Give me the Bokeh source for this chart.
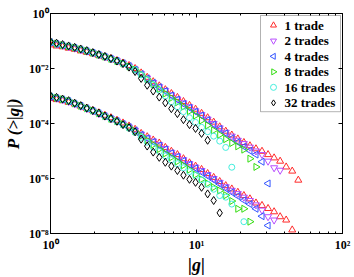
import numpy as np
from bokeh.plotting import figure
from bokeh.models import LogAxis, FixedTicker, Range1d, CustomJSTickFormatter, BoxAnnotation
from bokeh.core.properties import value
from bokeh.embed import file_html
from bokeh.resources import INLINE

# bin centres of |g|
g_bins = [1.0, 1.1, 1.21, 1.331, 1.464, 1.611, 1.772, 1.949, 2.144, 2.358, 2.594,
          2.853, 3.138, 3.452, 3.797, 4.177, 4.595, 5.054, 5.560, 6.116, 6.727,
          7.400, 8.140, 8.954, 9.850, 10.83, 11.92, 13.11, 14.42, 15.86, 17.45,
          19.19, 21.11, 23.23, 25.55, 28.10, 30.91, 34.00, 37.40, 41.14, 45.26, 49.79]

# log10 P(>|g|), upper group
up_1 = [-1.14, -1.18, -1.21, -1.26, -1.30, -1.36, -1.41, -1.46, -1.52, -1.58, -1.64, -1.71,
        -1.80, -1.89, -2.00, -2.16, -2.32, -2.48, -2.63, -2.77, -2.91, -3.05, -3.20, -3.34,
        -3.48, -3.63, -3.79, -3.95, -4.12, -4.28, -4.42, -4.56, -4.69, -4.81, -4.92, -5.01,
        -5.13, -5.25, -5.37, -5.58, -5.73, -6.06]
up_2 = [-1.06, -1.11, -1.16, -1.21, -1.26, -1.32, -1.37, -1.43, -1.50, -1.57, -1.64, -1.72,
        -1.81, -1.91, -2.03, -2.19, -2.35, -2.51, -2.66, -2.80, -2.96, -3.11, -3.25, -3.39,
        -3.54, -3.68, -3.84, -4.00, -4.16, -4.32, -4.46, -4.61, -4.73, -4.86, -5.00, -5.13,
        -5.37, -5.61, -5.70]
up_4 = [-1.05, -1.11, -1.16, -1.20, -1.25, -1.31, -1.37, -1.43, -1.50, -1.57, -1.64, -1.72,
        -1.81, -1.91, -2.04, -2.20, -2.36, -2.52, -2.68, -2.82, -2.98, -3.13, -3.29, -3.43,
        -3.57, -3.71, -3.88, -4.04, -4.20, -4.36, -4.54, -4.68, -4.84, -4.99, -5.13, -5.39,
        -6.18]
up_8 = [-1.05, -1.10, -1.15, -1.20, -1.24, -1.30, -1.36, -1.43, -1.50, -1.57, -1.65, -1.73,
        -1.82, -1.93, -2.04, -2.21, -2.39, -2.57, -2.75, -2.91, -3.07, -3.23, -3.39, -3.55,
        -3.71, -3.89, -4.07, -4.25, -4.41, -4.57, -4.71, -4.83, -4.95, -5.28, -5.58]
up_16 = [-1.04, -1.10, -1.15, -1.19, -1.24, -1.30, -1.36, -1.43, -1.50, -1.57, -1.65, -1.73,
         -1.83, -1.94, -2.05, -2.23, -2.41, -2.59, -2.79, -3.00, -3.21, -3.39, -3.57, -3.79,
         -3.96, -4.14, -4.30, -4.46, -4.64, -4.87, -5.59]
up_32 = [-1.02, -1.08, -1.13, -1.18, -1.23, -1.29, -1.35, -1.42, -1.49, -1.56, -1.64, -1.73,
         -1.82, -1.95, -2.11, -2.36, -2.61, -2.82, -3.04, -3.25, -3.46, -3.64, -3.86, -4.04,
         -4.18, -4.36, -4.61]

# log10 P(>|g|), lower group (None = empty bin)
lo_1 = [-3.09, -3.13, -3.17, -3.23, -3.29, -3.37, -3.45, -3.53, -3.61, -3.70, -3.79, -3.88,
        -3.98, -4.09, -4.21, -4.36, -4.48, -4.60, -4.71, -4.87, -5.01, -5.13, -5.28, -5.43,
        -5.55, -5.67, -5.82, -5.96, -6.11, -6.26, -6.38, -6.50, -6.62, -6.74, -6.89, -6.98,
        -7.09, -7.21, -7.39, -7.51, -7.87]
lo_2 = [-3.04, -3.08, -3.14, -3.20, -3.29, -3.37, -3.46, -3.54, -3.64, -3.73, -3.82, -3.91,
        -4.02, -4.13, -4.25, -4.39, -4.52, -4.64, -4.77, -4.91, -5.05, -5.18, -5.32, -5.46,
        -5.59, -5.71, -5.86, -6.00, -6.14, -6.30, -6.43, -6.55, -6.68, -6.80, -6.96, -7.15,
        -7.39, -7.51]
lo_4 = [-3.03, -3.08, -3.13, -3.19, -3.28, -3.36, -3.45, -3.54, -3.63, -3.73, -3.82, -3.91,
        -4.02, -4.13, -4.25, -4.41, -4.54, -4.67, -4.80, -4.94, -5.08, -5.21, -5.36, -5.50,
        -5.63, -5.77, -5.91, -6.05, -6.20, -6.36, -6.50, -6.64, -6.79, -6.93, -7.10, -7.37,
        -7.71]
lo_8 = [-3.02, -3.07, -3.12, -3.18, -3.27, -3.36, -3.45, -3.53, -3.63, -3.73, -3.83, -3.92,
        -4.03, -4.14, -4.29, -4.45, -4.61, -4.77, -4.93, -5.09, -5.23, -5.38, -5.52, -5.68,
        -5.86, -6.03, -6.18, -6.32, -6.44, -6.61, -6.82, -7.10, -7.10, -7.57]
lo_16 = [-3.00, -3.06, -3.12, -3.18, -3.27, -3.36, -3.45, -3.54, -3.63, -3.74, -3.83, -3.93,
         -4.05, -4.17, -4.32, -4.50, -4.68, -4.86, -5.02, -5.18, -5.32, -5.46, -5.61, -5.75,
         -5.89, -6.05, -6.21, -6.39, -6.62, -6.68, -6.93, None, -7.57]
lo_32 = [-2.99, -3.05, -3.11, -3.17, -3.26, -3.35, -3.44, -3.53, -3.62, -3.73, -3.82, -3.92,
         -4.04, -4.15, -4.30, -4.57, -4.82, -5.04, -5.23, -5.41, -5.55, -5.71, -5.88, -6.03,
         -6.14, -6.32, -6.56, -6.80, -7.25]

labels = ["1 trade", "2 trades", "4 trades", "8 trades", "16 trades", "32 trades"]

x_ticks = [1, 10, 100]
x_tick_labels = ["10\u2070", "10\u00b9", "10\u00b2"]
x_minor = [2, 3, 4, 5, 6, 7, 8, 9, 20, 30, 40, 50, 60, 70, 80, 90]
y_ticks = [1e-8, 1e-6, 1e-4, 1e-2, 1]
y_tick_labels = ["10\u207b\u2078", "10\u207b\u2076", "10\u207b\u2074", "10\u207b\u00b2", "10\u2070"]

FONT = "Liberation Serif"
X0, X1, Y0, Y1 = 1, 100, 1e-8, 1
FW, FH = 292, 224          # intended frame size in px

p = figure(width=354, height=277, x_axis_type="log", y_axis_type="log",
           x_range=Range1d(X0, X1), y_range=Range1d(Y0, Y1),
           output_backend="svg", toolbar_location=None,
           min_border_left=50, min_border_right=12, min_border_top=13, min_border_bottom=40)
p.xgrid.visible = False
p.ygrid.visible = False
p.outline_line_color = "black"
p.background_fill_color = "white"
p.border_fill_color = "white"


def fmt(vals, labs):
    return CustomJSTickFormatter(args=dict(vals=vals, labs=labs), code="""
        let best = 0, bd = Infinity;
        for (let i = 0; i < vals.length; i++) {
            const d = Math.abs(Math.log10(tick) - Math.log10(vals[i]));
            if (d < bd) { bd = d; best = i; }
        }
        return labs[best];
    """)


def style_axis(ax, show_labels):
    ax.major_tick_in = 4
    ax.major_tick_out = 0
    ax.minor_tick_in = 2
    ax.minor_tick_out = 0
    ax.axis_line_color = "black"
    ax.major_tick_line_color = "black"
    ax.minor_tick_line_color = "black"
    if show_labels:
        ax.major_label_text_font = FONT
        ax.major_label_text_font_style = "bold"
        ax.major_label_text_font_size = "12px"
        ax.major_label_text_color = "black"
        ax.axis_label_text_font = FONT
        ax.axis_label_text_font_style = "bold italic"
        ax.axis_label_text_color = "black"
    else:
        ax.major_label_text_color = None
        ax.major_label_text_font_size = "1px"
        ax.major_label_standoff = 0


p.xaxis.ticker = FixedTicker(ticks=x_ticks, minor_ticks=x_minor)
p.xaxis.formatter = fmt(x_ticks, x_tick_labels)
p.yaxis.ticker = FixedTicker(ticks=y_ticks, minor_ticks=[])
p.yaxis.formatter = fmt(y_ticks, y_tick_labels)
style_axis(p.xaxis[0], True)
style_axis(p.yaxis[0], True)
p.xaxis.major_label_standoff = 4
p.yaxis.major_label_standoff = 2

p.xaxis.axis_label = "|g|"
p.xaxis.axis_label_text_font_size = "18px"
p.xaxis.axis_label_standoff = 0
p.yaxis.axis_label = "P (>|g|)"
p.yaxis.axis_label_text_font_size = "17px"
p.yaxis.axis_label_standoff = 3

top = LogAxis(ticker=FixedTicker(ticks=x_ticks, minor_ticks=x_minor))
right = LogAxis(ticker=FixedTicker(ticks=y_ticks, minor_ticks=[]))
style_axis(top, False)
style_axis(right, False)
p.add_layout(top, "above")
p.add_layout(right, "right")

styles = [
    ("triangle", 0.0, "#ff2a2a", 7),
    ("inverted_triangle", 0.0, "#b84dff", 7),
    ("triangle", np.pi / 2, "#3355ff", 7),
    ("triangle", -np.pi / 2, "#33dd11", 7),
    ("circle", 0.0, "#44eedd", 6),
    ("diamond", 0.0, "#000000", 8),
]
uppers = [up_1, up_2, up_4, up_8, up_16, up_32]
lowers = [lo_1, lo_2, lo_4, lo_8, lo_16, lo_32]

for (mk, ang, col, sz), up, lo in zip(styles, uppers, lowers):
    for vals in (up, lo):
        pairs = [(g, v) for g, v in zip(g_bins, vals) if v is not None]
        xs = [g for g, _ in pairs]
        ys = [10.0 ** v for _, v in pairs]
        p.scatter(xs, ys, marker=mk, angle=ang, size=sz, fill_color=None,
                  line_color=col, line_width=1)


# ---- legend drawn by hand so that rotated triangles show correctly ----
def fx(px):   # frame px from left -> data x
    return 10 ** (np.log10(X0) + px / FW * (np.log10(X1) - np.log10(X0)))


def fy(py):   # frame px from top -> data y
    return 10 ** (np.log10(Y1) - py / FH * (np.log10(Y1) - np.log10(Y0)))


box = BoxAnnotation(left=fx(210), right=fx(290), top=fy(2), bottom=fy(100),
                    fill_color="white", fill_alpha=1.0, line_color="black",
                    line_width=1, level="underlay")
p.add_layout(box)
rows = [12 + 15.8 * i for i in range(len(labels))]
for (mk, ang, col, sz), lab, ry in zip(styles, labels, rows):
    p.scatter([fx(223)], [fy(ry)], marker=mk, angle=ang, size=6, fill_color=None,
              line_color=col, line_width=1)
p.text([fx(234)] * len(labels), [fy(r) for r in rows], text=labels,
       text_font=value(FONT), text_font_style="bold", text_font_size="13px",
       text_align="left", text_baseline="middle", text_color="black")

open("out.html", "w").write(file_html(p, INLINE))
